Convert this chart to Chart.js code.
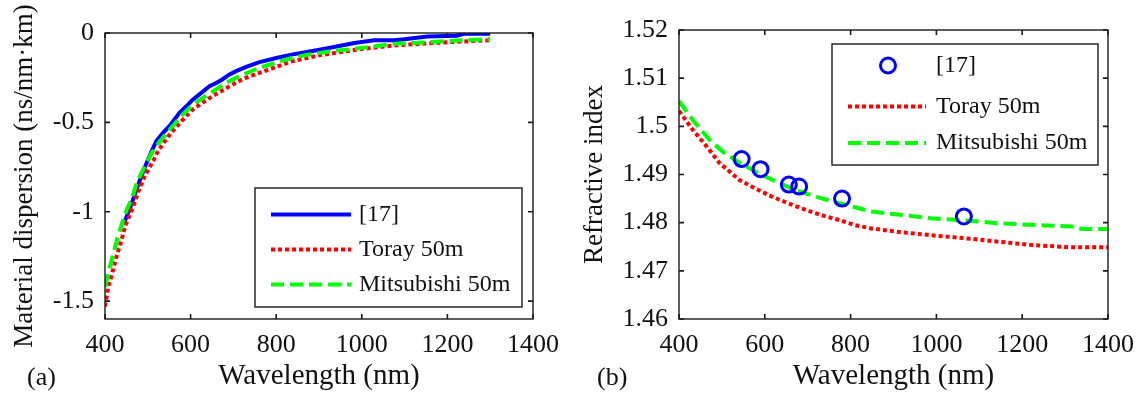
<!DOCTYPE html>
<html>
<head>
<meta charset="utf-8">
<script src="https://cdn.jsdelivr.net/npm/chart.js@4.4.1/dist/chart.umd.min.js"></script>
<style>
  html, body { margin: 0; padding: 0; background: #fff; }
  body { width: 1145px; height: 394px; position: relative; overflow: hidden; }
  .panel { position: absolute; top: 0; height: 394px; }
  #panelA { left: 0; width: 570px; }
  #panelB { left: 570px; width: 575px; }
  .tag { position: absolute; top: 362px; font: 26px 'Liberation Serif', serif; line-height: 30px; color: #111; }
</style>
</head>
<body>
<div class="panel" id="panelA"><canvas id="chartA" width="570" height="394"></canvas></div>
<div class="panel" id="panelB"><canvas id="chartB" width="575" height="394"></canvas></div>
<div class="tag" style="left:27px">(a)</div>
<div class="tag" style="left:597px">(b)</div>
<script>
// ---- DATA: (a) material dispersion, ns/(nm·km) ----
const wlDisp17 = [445, 460, 470, 482, 495, 509, 520, 535, 551, 574, 590, 605, 625, 644, 660, 674, 690, 705, 730, 759, 800, 836, 875, 920, 983, 1029, 1076, 1100, 1153, 1222, 1238, 1300];
const disp17   = [-1.06, -0.97, -0.90, -0.82, -0.74, -0.66, -0.605, -0.56, -0.52, -0.447, -0.41, -0.373, -0.335, -0.298, -0.28, -0.26, -0.233, -0.215, -0.19, -0.164, -0.14, -0.121, -0.105, -0.085, -0.056, -0.041, -0.041, -0.035, -0.019, -0.015, -0.004, -0.004];

const wlDispToray = [400, 408, 416, 428, 439, 447, 466, 478, 493, 516, 524, 551, 580, 605, 640, 682, 720, 759, 800, 836, 900, 998, 1076, 1153, 1230, 1300];
const dispToray   = [-1.53, -1.415, -1.35, -1.24, -1.155, -1.08, -0.97, -0.885, -0.80, -0.70, -0.66, -0.568, -0.49, -0.428, -0.37, -0.31, -0.26, -0.224, -0.19, -0.159, -0.125, -0.09, -0.07, -0.058, -0.048, -0.04];

const wlDispMitsu = [400, 412, 420, 428, 439, 451, 462, 474, 489, 509, 530, 551, 580, 605, 640, 685, 720, 759, 800, 836, 867, 920, 998, 1076, 1153, 1230, 1300];
const dispMitsu   = [-1.42, -1.30, -1.23, -1.155, -1.07, -0.987, -0.93, -0.84, -0.764, -0.67, -0.60, -0.54, -0.46, -0.40, -0.345, -0.275, -0.235, -0.196, -0.165, -0.14, -0.125, -0.105, -0.084, -0.06, -0.052, -0.041, -0.034];

// ---- DATA: (b) refractive index ----
const wlIndex17 = [546, 590, 656, 680, 780, 1064];
const index17   = [1.4932, 1.4911, 1.4879, 1.4875, 1.4850, 1.4813];

const wlIndexToray = [400, 432, 471, 494, 509, 540, 580, 617, 655, 694, 730, 771, 810, 848, 909, 986, 1063, 1140, 1217, 1309, 1400];
const indexToray   = [1.5032, 1.4993, 1.4951, 1.4924, 1.4913, 1.4889, 1.4870, 1.4854, 1.4840, 1.4827, 1.4816, 1.4806, 1.4795, 1.4788, 1.4781, 1.4774, 1.4768, 1.4761, 1.4754, 1.4749, 1.4749];

const wlIndexMitsu = [400, 432, 471, 501, 540, 580, 617, 655, 694, 730, 771, 810, 848, 909, 986, 1063, 1140, 1255, 1317, 1340, 1400];
const indexMitsu   = [1.5052, 1.5013, 1.4972, 1.4948, 1.4925, 1.4905, 1.4889, 1.4874, 1.4861, 1.4851, 1.4841, 1.4832, 1.4823, 1.4817, 1.4809, 1.4805, 1.4799, 1.4794, 1.4792, 1.4787, 1.4787];

const legendLabels = ['[17]', 'Toray 50m', 'Mitsubishi 50m'];

const FONT = "'Liberation Serif', serif";
const pairs = (xs, ys) => xs.map((x, i) => ({ x, y: ys[i] }));
const fmt = v => String(Number(v.toFixed(3)));

// box round the plot with inward ticks on all four sides
const boxAxes = {
  id: 'boxAxes',
  afterDatasetsDraw(chart) {
    const { ctx, chartArea: a, scales } = chart;
    const len = 5;
    ctx.save();
    ctx.strokeStyle = '#1a1a1a';
    ctx.lineWidth = 1.4;
    ctx.strokeRect(a.left, a.top, a.right - a.left, a.bottom - a.top);
    ctx.lineWidth = 1.6;
    ctx.beginPath();
    scales.x.ticks.forEach(t => {
      const px = scales.x.getPixelForValue(t.value);
      ctx.moveTo(px, a.bottom); ctx.lineTo(px, a.bottom - len);
      ctx.moveTo(px, a.top); ctx.lineTo(px, a.top + len);
    });
    scales.y.ticks.forEach(t => {
      const py = scales.y.getPixelForValue(t.value);
      ctx.moveTo(a.left, py); ctx.lineTo(a.left + len, py);
      ctx.moveTo(a.right, py); ctx.lineTo(a.right - len, py);
    });
    ctx.stroke();
    ctx.restore();
  }
};

// legend box drawn inside the plot area
const insideLegend = {
  id: 'insideLegend',
  afterDraw(chart, args, o) {
    const { ctx, chartArea: a } = chart;
    const left = a.right - o.right - o.width;
    const top = o.top != null ? a.top + o.top : a.bottom - o.bottom - o.height;
    ctx.save();
    ctx.fillStyle = '#fff';
    ctx.fillRect(left, top, o.width, o.height);
    ctx.strokeStyle = '#1a1a1a';
    ctx.lineWidth = 1.4;
    ctx.strokeRect(left, top, o.width, o.height);
    o.items.forEach((idx, row) => {
      const ds = chart.data.datasets[idx];
      const y = top + o.rowY[row];
      if (ds.showLine === false) {
        ctx.beginPath();
        ctx.lineWidth = ds.pointBorderWidth;
        ctx.strokeStyle = ds.pointBorderColor;
        ctx.setLineDash([]);
        ctx.arc(left + o.markerX, y, ds.pointRadius, 0, Math.PI * 2);
        ctx.stroke();
      } else {
        ctx.beginPath();
        ctx.lineWidth = ds.borderWidth;
        ctx.strokeStyle = ds.borderColor;
        ctx.setLineDash(ds.borderDash || []);
        ctx.moveTo(left + o.lineX[0], y);
        ctx.lineTo(left + o.lineX[1], y);
        ctx.stroke();
      }
      ctx.setLineDash([]);
      ctx.fillStyle = '#111';
      ctx.font = o.font;
      ctx.textBaseline = 'middle';
      ctx.textAlign = 'left';
      ctx.fillText(ds.label, left + o.textX, y);
    });
    ctx.restore();
  }
};

function makeOptions(cfg) {
  return {
    responsive: false,
    animation: false,
    events: [],
    layout: { padding: cfg.padding },
    plugins: {
      legend: { display: false },
      tooltip: { enabled: false },
      insideLegend: cfg.legend
    },
    scales: {
      x: {
        type: 'linear', min: 400, max: 1400,
        grid: { display: false, drawTicks: false },
        border: { display: false },
        ticks: { stepSize: 200, padding: 11, color: '#111', font: { family: FONT, size: 26 }, callback: v => String(v) },
        title: { display: true, text: 'Wavelength (nm)', color: '#111', font: { family: FONT, size: 29 }, padding: { top: 0, bottom: 0 } },
        afterFit: s => { s.height = cfg.xHeight; }
      },
      y: {
        type: 'linear', min: cfg.yMin, max: cfg.yMax,
        grid: { display: false, drawTicks: false },
        border: { display: false },
        ticks: { stepSize: cfg.yStep, includeBounds: false, padding: 11, color: '#111', font: { family: FONT, size: 26 }, callback: v => fmt(v) },
        title: { display: true, text: cfg.yTitle, color: '#111', font: { family: FONT, size: 27 }, padding: { top: 9, bottom: 0 } },
        afterFit: s => { s.width = cfg.yWidth; }
      }
    }
  };
}

new Chart(document.getElementById('chartA'), {
  type: 'line',
  data: {
    datasets: [
      { label: legendLabels[0], data: pairs(wlDisp17, disp17), borderColor: '#0000ff', borderWidth: 4, pointRadius: 0, order: 2 },
      { label: legendLabels[1], data: pairs(wlDispToray, dispToray), borderColor: '#ff0000', borderWidth: 4, borderDash: [4, 3], pointRadius: 0, order: 1 },
      { label: legendLabels[2], data: pairs(wlDispMitsu, dispMitsu), borderColor: '#00ff00', borderWidth: 4, borderDash: [13, 6], pointRadius: 0, order: 0 }
    ]
  },
  options: makeOptions({
    yMin: -1.6, yMax: 0, yStep: 0.5,
    yTitle: 'Material dispersion (ns/nm\u00b7km)',
    yWidth: 105, xHeight: 75,
    padding: { top: 33, right: 33, bottom: 0, left: 0 },
    legend: { right: 11, bottom: 12, width: 267, height: 119, rowY: [26.5, 61.5, 96.5], lineX: [16, 96], markerX: 56, textX: 104, items: [0, 1, 2], font: '24px ' + FONT }
  }),
  plugins: [boxAxes, insideLegend]
});

new Chart(document.getElementById('chartB'), {
  type: 'line',
  data: {
    datasets: [
      { label: legendLabels[0], data: pairs(wlIndex17, index17), showLine: false, pointRadius: 7.5, pointBorderWidth: 3, pointBorderColor: '#0000ff', pointBackgroundColor: 'rgba(0,0,0,0)', borderColor: '#0000ff', order: 0 },
      { label: legendLabels[1], data: pairs(wlIndexToray, indexToray), borderColor: '#ff0000', borderWidth: 4, borderDash: [4, 3], pointRadius: 0, order: 2 },
      { label: legendLabels[2], data: pairs(wlIndexMitsu, indexMitsu), borderColor: '#00ff00', borderWidth: 4, borderDash: [13, 6], pointRadius: 0, order: 1 }
    ]
  },
  options: makeOptions({
    yMin: 1.46, yMax: 1.52, yStep: 0.01,
    yTitle: 'Refractive index',
    yWidth: 109, xHeight: 75,
    padding: { top: 30, right: 32, bottom: 0, left: 0 },
    legend: { right: 10, top: 14, width: 266, height: 121, rowY: [21.5, 62.5, 99], lineX: [16, 94], markerX: 56, textX: 104, items: [0, 1, 2], font: '24px ' + FONT }
  }),
  plugins: [boxAxes, insideLegend]
});
</script>
</body>
</html>
